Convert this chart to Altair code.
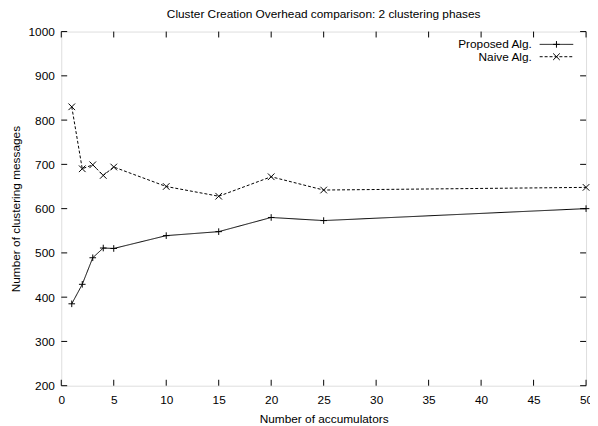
import altair as alt
import pandas as pd

x_vals = [1, 2, 3, 4, 5, 10, 15, 20, 25, 50]
proposed = [385, 429, 489, 511, 510, 539, 548, 580, 573, 600]
naive = [830, 690, 699, 675, 694, 650, 628, 672, 642, 648]
series_names = ["Proposed Alg.", "Naive Alg."]
x_ticks = [0, 5, 10, 15, 20, 25, 30, 35, 40, 45, 50]
y_ticks = [200, 300, 400, 500, 600, 700, 800, 900, 1000]

W, H = 532, 359
FONT = "Liberation Sans"
FS = 12

df = pd.DataFrame({
    "x": x_vals * 2,
    "y": proposed + naive,
    "series": [series_names[0]] * len(x_vals) + [series_names[1]] * len(x_vals),
})
xt = pd.DataFrame({"t": x_ticks})
yt = pd.DataFrame({"t": y_ticks})

xs = alt.Scale(domain=[0, 50], nice=False)
ys = alt.Scale(domain=[200, 1000], nice=False)

PLUS = "M-1,0L1,0M0,-1L0,1"
CROSS = "M-1,-1L1,1M-1,1L1,-1"

base = alt.Chart(df)

def series_layer(name, dash, shape):
    d = base.transform_filter(alt.datum.series == name)
    line = d.mark_line(color="black", strokeWidth=1, strokeDash=dash, clip=False).encode(
        x=alt.X("x:Q", scale=xs,
                axis=alt.Axis(values=x_ticks, title="Number of accumulators", ticks=False,
                              domain=False, grid=False, labelPadding=9, titlePadding=8, format="d",
                              labelFont=FONT, titleFont=FONT, labelFontSize=FS, titleFontSize=FS,
                              titleFontWeight="normal", labelColor="black", titleColor="black",
                              labelFlush=False)),
        y=alt.Y("y:Q", scale=ys,
                axis=alt.Axis(values=y_ticks, title="Number of clustering messages", ticks=False,
                              domain=False, grid=False, labelPadding=7, titlePadding=6, format="d",
                              labelFont=FONT, titleFont=FONT, labelFontSize=FS, titleFontSize=FS,
                              titleFontWeight="normal", labelColor="black", titleColor="black")),
    )
    pts = d.mark_point(shape=shape, filled=False, color="black", size=45, strokeWidth=1, opacity=1, clip=False).encode(
        x=alt.X("x:Q", scale=xs), y=alt.Y("y:Q", scale=ys))
    return line + pts

solid = series_layer(series_names[0], [1, 0], PLUS)
dashed = series_layer(series_names[1], [3, 2], CROSS)

tick_style = dict(color="black", strokeWidth=1)
xt_bottom = alt.Chart(xt).mark_rule(**tick_style).encode(
    x=alt.X("t:Q", scale=xs), y=alt.value(H), y2=alt.value(H - 6))
xt_top = alt.Chart(xt).mark_rule(**tick_style).encode(
    x=alt.X("t:Q", scale=xs), y=alt.value(0), y2=alt.value(6))
yt_left = alt.Chart(yt).mark_rule(**tick_style).encode(
    y=alt.Y("t:Q", scale=ys), x=alt.value(0), x2=alt.value(6))
yt_right = alt.Chart(yt).mark_rule(**tick_style).encode(
    y=alt.Y("t:Q", scale=ys), x=alt.value(W), x2=alt.value(W - 6))

# legend (gnuplot style: label right-aligned, sample to its right)
leg = pd.DataFrame({"label": series_names, "row": [0, 1]})
LX_TEXT = W - 55
LS1, LS2 = W - 47, W - 13
row_y = [13, 25.5]
leg_layers = []
for i, name in enumerate(series_names):
    one = alt.Chart(leg).transform_filter(alt.datum.row == i)
    leg_layers.append(one.mark_text(align="right", baseline="middle", font=FONT, fontSize=FS, color="black").encode(
        text="label:N", x=alt.value(LX_TEXT), y=alt.value(row_y[i])))
    leg_layers.append(one.mark_rule(color="black", strokeWidth=1, strokeDash=[1, 0] if i == 0 else [3, 2]).encode(
        x=alt.value(LS1), x2=alt.value(LS2), y=alt.value(row_y[i])))
    leg_layers.append(one.mark_point(shape=PLUS if i == 0 else CROSS, filled=False, color="black", size=45,
                                     strokeWidth=1, opacity=1).encode(
        x=alt.value((LS1 + LS2) / 2), y=alt.value(row_y[i])))

chart = alt.layer(solid, dashed, xt_bottom, xt_top, yt_left, yt_right, *leg_layers).properties(
    width=W, height=H,
    title=alt.TitleParams("Cluster Creation Overhead comparison: 2 clustering phases",
                          font=FONT, fontSize=FS, fontWeight="normal", color="black",
                          anchor="middle", offset=5),
    autosize="none",
    padding={"left": 54, "top": 21, "right": 4, "bottom": 40},
).configure_view(stroke="black", strokeWidth=1).configure(background="white")

chart.save("out.html", embed_options={"renderer": "svg", "actions": False})
